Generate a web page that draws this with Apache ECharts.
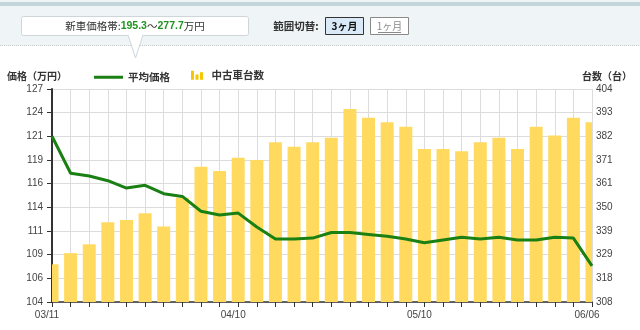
<!DOCTYPE html>
<html>
<head>
<meta charset="utf-8">
<script src="https://cdn.jsdelivr.net/npm/echarts@6/dist/echarts.min.js"></script>
<style>
html,body{margin:0;padding:0;background:#fff;}
#c{width:640px;height:330px;}
</style>
</head>
<body>
<div id="c"></div>
<script>
const categories = ['03/11','03/14','03/17','03/20','03/23','03/26','03/29','04/01','04/04','04/07',
  '04/10','04/13','04/16','04/19','04/22','04/25','04/28','05/01','05/04','05/07',
  '05/10','05/13','05/16','05/19','05/22','05/25','05/28','05/31','06/03','06/06'];
const shownLabels = ['03/11','04/10','05/10','06/06'];
const avgPrice = [121.9,117.9,117.6,117.1,116.3,116.6,115.7,115.4,113.8,113.4,
  113.6,112.1,110.8,110.8,110.9,111.5,111.5,111.3,111.1,110.8,
  110.4,110.7,111.0,110.8,111.0,110.7,110.7,111.0,110.9,107.9];
const usedCount = [325,330,334,344,345,348,342,355,369,367,
  373,372,380,378,380,382,395,391,389,387,
  377,377,376,380,382,377,387,383,391,389];
const leftTicks = [104,106,109,111,114,116,119,121,124,127];
const rightTicks = [308,318,329,339,350,361,371,382,393,404];
const priceRangeLow = '195.3';
const priceRangeHigh = '277.7';

const JP = '"Noto Sans CJK JP", sans-serif';
const NUM = '"Liberation Sans", Arial, sans-serif';
const lMin = leftTicks[0], lMax = leftTicks[leftTicks.length-1];
const rMin = rightTicks[0], rMax = rightTicks[rightTicks.length-1];
const lStep = (lMax - lMin) / (leftTicks.length - 1);
const rStep = (rMax - rMin) / (rightTicks.length - 1);
const BAR_COLOR = '#ffda5e';
const LINE_COLOR = '#1a8014';
const barData = usedCount.map(function(v, i){ return [categories[i], v]; });

const chart = echarts.init(document.getElementById('c'), null, {renderer:'canvas'});
chart.setOption({
  animation: false,
  backgroundColor: '#ffffff',
  graphic: [
    {type:'rect', shape:{x:0,y:0,width:640,height:46}, style:{fill:'#eff4f7'}, silent:true},
    {type:'rect', shape:{x:0,y:2,width:640,height:4}, style:{fill:'#c3d5db'}, silent:true},
    {type:'line', shape:{x1:0,y1:45.5,x2:640,y2:45.5}, style:{stroke:'#c8ccce', lineWidth:1, lineDash:[1,1]}, silent:true},
    {type:'rect', shape:{x:21.5,y:16.5,width:227,height:19,r:2}, style:{fill:'#ffffff', stroke:'#cfd6da', lineWidth:1}, silent:true},
    {type:'polygon', shape:{points:[[128,35],[143,35],[135.5,58]]}, style:{fill:'#ffffff', stroke:'#cfd6da', lineWidth:1}, silent:true},
    {type:'rect', shape:{x:128.5,y:34,width:14,height:2}, style:{fill:'#ffffff'}, silent:true},
    {type:'text', x:135, y:26, style:{
      text:'{a|新車価格帯:}{b|' + priceRangeLow + '}{a|～}{b|' + priceRangeHigh + '}{a|万円}',
      align:'center', verticalAlign:'middle',
      rich:{
        a:{fontFamily:JP, fontSize:10.5, fill:'#333333'},
        b:{fontFamily:NUM, fontSize:10.5, fontWeight:'bold', fill:'#1f941f'}
      }}, silent:true},
    {type:'text', x:296, y:26, style:{text:'範囲切替:', fontFamily:JP, fontSize:10.5, fontWeight:'bold', fill:'#333333', align:'center', verticalAlign:'middle'}, silent:true},
    {type:'rect', shape:{x:325.5,y:17.5,width:38,height:17}, style:{fill:'#d9e9f7', stroke:'#333333', lineWidth:1}, silent:true},
    {type:'text', x:344.5, y:26, style:{text:'3ヶ月', fontFamily:JP, fontSize:10, fontWeight:'bold', fill:'#111111', align:'center', verticalAlign:'middle'}, silent:true},
    {type:'rect', shape:{x:370.5,y:17.5,width:38,height:17}, style:{fill:'#ffffff', stroke:'#8a8a8a', lineWidth:1}, silent:true},
    {type:'text', x:389.5, y:26, style:{text:'1ヶ月', fontFamily:JP, fontSize:10, fill:'#8a8a8a', align:'center', verticalAlign:'middle'}, silent:true},
    {type:'line', shape:{x1:378,y1:32.5,x2:401,y2:32.5}, style:{stroke:'#8a8a8a', lineWidth:1}, silent:true},
    {type:'text', x:37, y:76, style:{text:'価格（万円）', fontFamily:JP, fontSize:10, fontWeight:'bold', fill:'#333333', align:'center', verticalAlign:'middle'}, silent:true},
    {type:'text', x:607, y:76, style:{text:'台数（台）', fontFamily:JP, fontSize:10, fontWeight:'bold', fill:'#333333', align:'center', verticalAlign:'middle'}, silent:true}
  ],
  legend: [
    {data:[{name:'平均価格', icon:'rect'}], left:94, top:72, itemWidth:29, itemHeight:3, padding:0,
     itemStyle:{color:LINE_COLOR},
     textStyle:{fontFamily:JP, fontSize:10.5, fontWeight:'bold', color:'#333333'}},
    {data:[{name:'中古車台数', icon:'path://M0,0H4V12H0Z M6,5H10V12H6Z M12,2H16V12H12Z'}],
     left:191, top:70, itemWidth:13, itemHeight:9, padding:0, itemStyle:{color:'#f7c600'},
     textStyle:{fontFamily:JP, fontSize:10.5, fontWeight:'bold', color:'#333333', padding:[0,0,0,3]}}
  ],
  grid: {left:52, right:48, top:89, bottom:28, containLabel:false},
  xAxis: {
    type:'category', data:categories, boundaryGap:false,
    axisLine:{show:true, lineStyle:{color:'#333333', width:1.5}},
    axisTick:{show:true, interval:0, length:5, lineStyle:{color:'#333333'}},
    axisLabel:{interval:function(i, v){return shownLabels.indexOf(v) >= 0;},
      fontFamily:NUM, fontSize:10, color:'#444444', margin:8, padding:[0,10,0,0]},
    splitLine:{show:true, interval:0, lineStyle:{color:'#dcdcdc', width:1}}
  },
  yAxis: [
    {type:'value', min:lMin, max:lMax, interval:lStep,
     axisLine:{show:true, lineStyle:{color:'#333333', width:2}},
     axisTick:{show:true, length:5, lineStyle:{color:'#333333'}},
     axisLabel:{fontFamily:NUM, fontSize:10, color:'#444444', margin:9,
       formatter:function(v){return String(leftTicks[Math.round((v-lMin)/lStep)]);}},
     splitLine:{show:true, lineStyle:{color:'#dcdcdc', width:1}}},
    {type:'value', min:rMin, max:rMax, interval:rStep, position:'right',
     axisLine:{show:false}, axisTick:{show:false},
     axisLabel:{fontFamily:NUM, fontSize:10, color:'#444444', margin:4,
       formatter:function(v){return String(rightTicks[Math.round((v-rMin)/rStep)]);}},
     splitLine:{show:false}}
  ],
  series: [
    {name:'中古車台数', type:'custom', yAxisIndex:1, data:barData,
     encode:{x:0, y:1}, itemStyle:{color:BAR_COLOR},
     renderItem:function(params, api){
       const top = api.coord([api.value(0), api.value(1)]);
       const base = api.coord([api.value(0), rMin]);
       const w = 13;
       const cs = params.coordSys;
       const r = echarts.graphic.clipRectByRect(
         {x: top[0] - w/2, y: top[1], width: w, height: base[1] - top[1]},
         {x: cs.x, y: cs.y, width: cs.width, height: cs.height});
       if (!r) return null;
       return {type:'rect', shape:r, style:{fill:BAR_COLOR}};
     }},
    {name:'平均価格', type:'line', yAxisIndex:0, data:avgPrice, symbol:'none', z:5,
     lineStyle:{color:LINE_COLOR, width:3}, itemStyle:{color:LINE_COLOR}}
  ]
});
</script>
</body>
</html>
